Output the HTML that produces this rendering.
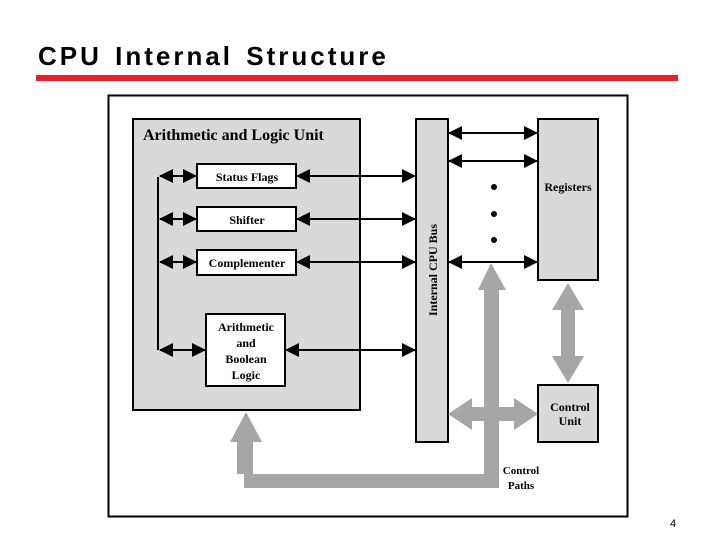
<!DOCTYPE html><html><head><style>
body{margin:0;width:720px;height:540px;background:#fff;overflow:hidden;position:relative;font-family:"Liberation Sans",sans-serif}
.t{position:absolute;left:38px;top:41px;font-size:26px;font-weight:bold;letter-spacing:3px;word-spacing:3px}
</style></head><body>
<div class="t">CPU Internal Structure</div>
<div style="position:absolute;left:36px;top:75px;width:642px;height:6px;background:#e8202a"></div>
<div style="position:absolute;left:670px;top:518px;font-size:11px">4</div>
<svg width="720" height="540" style="position:absolute;left:0;top:0" font-family="Liberation Serif,serif" font-weight="bold">
<defs><marker id="a" markerWidth="7" markerHeight="7" refX="6.5" refY="3.5" orient="auto-start-reverse" markerUnits="strokeWidth"><path d="M0,0 L7,3.5 L0,7z" fill="#000"/></marker></defs>
<rect x="108.5" y="95.5" width="519" height="421" fill="#fff" stroke="#000" stroke-width="2"/>
<rect x="133" y="119" width="227" height="291" fill="#d9d9d9" stroke="#000" stroke-width="2"/>
<text x="143" y="140" font-size="16">Arithmetic and Logic Unit</text>
<rect x="416" y="119" width="32" height="323" fill="#d9d9d9" stroke="#000" stroke-width="2"/>
<text transform="translate(437,316) rotate(-90)" font-size="12">Internal CPU Bus</text>
<rect x="538" y="119" width="60" height="161" fill="#d9d9d9" stroke="#000" stroke-width="2"/>
<text x="568" y="191" font-size="12" text-anchor="middle">Registers</text>
<rect x="538" y="385" width="60" height="57" fill="#d9d9d9" stroke="#000" stroke-width="2"/>
<text x="570" y="411" font-size="12" text-anchor="middle">Control</text><text x="570" y="425" font-size="12" text-anchor="middle">Unit</text>
<g fill="#fff" stroke="#000" stroke-width="2">
<rect x="197" y="164" width="99" height="24"/><rect x="197" y="207" width="99" height="24"/><rect x="197" y="250" width="99" height="25"/><rect x="206" y="314" width="79" height="72"/></g>
<g font-size="12" text-anchor="middle">
<text x="247" y="181">Status Flags</text><text x="247" y="224">Shifter</text><text x="247" y="267">Complementer</text>
<text x="246" y="331">Arithmetic</text><text x="246" y="347">and</text><text x="246" y="363">Boolean</text><text x="246" y="379">Logic</text></g>
<g stroke="#000" stroke-width="2" fill="none" marker-start="url(#a)" marker-end="url(#a)">
<line x1="160" y1="176" x2="196" y2="176"/><line x1="160" y1="219" x2="196" y2="219"/><line x1="160" y1="262" x2="196" y2="262"/><line x1="160" y1="350" x2="205" y2="350"/>
<line x1="297" y1="176" x2="415" y2="176"/><line x1="297" y1="219" x2="415" y2="219"/><line x1="297" y1="262" x2="415" y2="262"/><line x1="286" y1="350" x2="415" y2="350"/>
<line x1="449" y1="133" x2="537" y2="133"/><line x1="449" y1="161" x2="537" y2="161"/><line x1="449" y1="262" x2="537" y2="262"/></g>
<line x1="158" y1="177" x2="158" y2="350" stroke="#000" stroke-width="2"/>
<circle cx="494" cy="187" r="3"/><circle cx="494" cy="214" r="3"/><circle cx="494" cy="240" r="3"/>
<g fill="#a6a6a6">
<path d="M484,488 L484,290 L478,290 L491,263 L506,290 L499,290 L499,488z"/>
<rect x="244" y="474" width="255" height="14"/>
<path d="M237,474 L237,442 L230,442 L246,412 L262,442 L253,442 L253,474z"/>
<path d="M448,414 L472,398 L472,407 L514,407 L514,398 L538,414 L514,430 L514,421 L472,421 L472,430z"/>
<path d="M568,283 L584,310 L575,310 L575,356 L584,356 L568,383 L552,356 L561,356 L561,310 L552,310z"/>
</g>
<text x="521" y="474" font-size="11" text-anchor="middle">Control</text><text x="521" y="489" font-size="11" text-anchor="middle">Paths</text>
</svg>
</body></html>
